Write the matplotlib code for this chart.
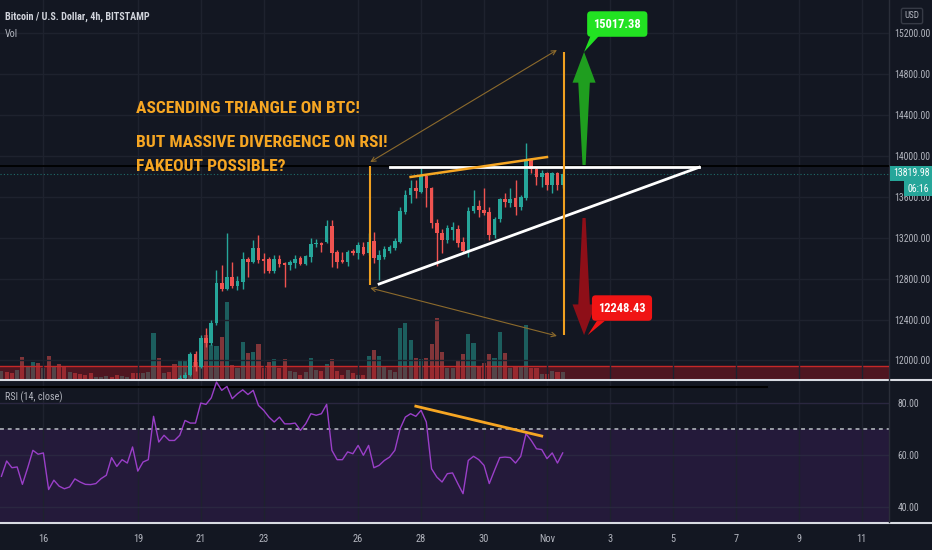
import numpy as np
import matplotlib
matplotlib.use('Agg')
import matplotlib.pyplot as plt
from matplotlib.patches import Polygon
from matplotlib.lines import Line2D
from matplotlib import font_manager as fm

# ---------------- data (4h bars, index 0 = 16 Oct 2020 00:00) ----------------
bar_start = -8            # first bar index of volume / RSI series
candle_start = 26         # first bar index of the candle arrays

opens = [11770, 11830, 11860, 12060, 11935, 12220, 12170, 12370, 12760, 12700,
         12820, 12730, 12770, 12990, 12960, 13100, 12990, 12990, 12880, 12990,
         12950, 12930, 12950, 13000, 12940, 13010, 13140, 13150, 13160, 13320,
         13060, 12980, 12960, 13070, 13050, 13110, 13050, 13170, 12980, 13010,
         13070, 13100, 13160, 13450, 13620, 13690, 13650, 13800, 13690, 13340,
         13250, 13180, 13280, 13290, 13160, 13070, 13460, 13510, 13470, 13450,
         13230, 13380, 13580, 13540, 13590, 13500, 13590, 13960, 13870, 13790,
         13830, 13720, 13830, 13720]
highs = [11860, 11890, 12080, 12090, 12250, 12320, 12400, 12885, 12930, 13250,
         12960, 12830, 13060, 13010, 13180, 13230, 13050, 13010, 13030, 13030,
         12960, 12980, 13030, 13020, 13030, 13200, 13190, 13160, 13370, 13370,
         13080, 13060, 13080, 13090, 13160, 13160, 13250, 13260, 13080, 13120,
         13130, 13200, 13500, 13670, 13770, 13770, 13880, 13810, 13700, 13380,
         13290, 13330, 13350, 13330, 13210, 13500, 13670, 13570, 13690, 13500,
         13400, 13590, 13640, 13690, 13770, 13620, 14130, 13980, 13890, 13860,
         13840, 13840, 13840, 13840]
lows = [11740, 11800, 11850, 11900, 11925, 12130, 12150, 12350, 12680, 12690,
        12710, 12690, 12700, 12820, 12950, 12950, 12860, 12860, 12860, 12910,
        12720, 12890, 12900, 12930, 12930, 12960, 13110, 13060, 13150, 12910,
        12900, 12950, 12920, 13030, 12990, 13030, 13030, 12950, 12790, 12990,
        13050, 13080, 13150, 13430, 13540, 13590, 13640, 13500, 13300, 12920,
        13050, 13150, 13180, 13110, 13050, 13010, 13440, 13400, 13420, 13180,
        13200, 13350, 13500, 13500, 13420, 13470, 13570, 13830, 13720, 13700,
        13670, 13640, 13670, 13690]
closes = [11830, 11860, 12060, 11935, 12220, 12170, 12370, 12760, 12700, 12820,
          12730, 12780, 12990, 12960, 13100, 12980, 12970, 12880, 12990, 12940,
          12930, 12960, 12990, 12940, 13020, 13140, 13150, 13130, 13320, 13050,
          12960, 12960, 13060, 13050, 13130, 13040, 13160, 13000, 13030, 13090,
          13110, 13170, 13460, 13620, 13690, 13660, 13800, 13690, 13340, 13250,
          13180, 13300, 13310, 13150, 13070, 13460, 13510, 13470, 13440, 13230,
          13380, 13580, 13550, 13580, 13500, 13600, 13960, 13870, 13790, 13830,
          13720, 13830, 13720, 13819.98]

volume = [320, 280, 240, 360, 880, 480, 680, 640, 440, 920,
          480, 600, 520, 280, 240, 200, 160, 240, 80, 80,
          120, 80, 160, 120, 80, 240, 240, 240, 280, 1840,
          840, 240, 280, 600, 760, 720, 920, 680, 1640, 1760,
          1360, 1320, 1680, 3080, 560, 440, 1480, 1040, 1080, 1400,
          440, 680, 800, 440, 800, 320, 280, 160, 280, 840,
          360, 320, 600, 800, 320, 160, 360, 240, 160, 160,
          920, 1160, 920, 480, 360, 280, 2040, 2240, 1560, 840,
          800, 840, 1400, 2440, 1080, 440, 440, 760, 1000, 1800,
          1440, 480, 640, 1000, 840, 1880, 1040, 440, 520, 480,
          2160, 440, 440, 200, 200, 320, 280, 280]
early_dir = ['U', 'D', 'D', 'U', 'D', 'U', 'U', 'D', 'U', 'D',
             'U', 'D', 'D', 'U', 'D', 'D', 'D', 'D', 'U', 'U',
             'U', 'D', 'D', 'U', 'U', 'D', 'D', 'U', 'U', 'U',
             'D', 'U', 'D', 'D']

rsi = [51.8, 57.7, 55.1, 55.4, 48.7, 55.0, 61.8, 60.3, 60.8, 46.7,
       50.3, 48.0, 47.0, 47.7, 50.8, 49.6, 48.7, 48.6, 49.0, 50.9,
       52.2, 59.0, 55.6, 58.2, 56.9, 63.1, 53.8, 57.3, 58.2, 74.9,
       65.0, 67.6, 65.6, 65.6, 67.6, 73.3, 72.3, 72.3, 80.0, 79.5,
       82.0, 88.1, 84.9, 86.4, 81.7, 83.6, 85.1, 83.3, 84.9, 79.1,
       77.2, 74.6, 72.7, 74.6, 72.0, 72.0, 72.3, 69.5, 72.0, 75.9,
       75.3, 75.9, 79.5, 61.8, 58.2, 58.2, 61.2, 60.5, 63.7, 59.9,
       63.7, 55.1, 56.0, 57.9, 59.2, 61.8, 70.1, 74.6, 75.9, 74.9,
       77.2, 72.7, 54.7, 51.5, 49.6, 52.8, 53.1, 49.0, 45.1, 57.9,
       59.5, 58.2, 56.0, 49.0, 54.1, 59.0, 59.2, 59.0, 56.9, 59.5,
       68.2, 65.6, 62.4, 62.1, 58.6, 60.8, 56.9, 60.8]

day_ticks = [0, 18, 30, 42, 60, 72, 84, 96, 108, 120, 132, 144, 156]
day_labels = ['16', '19', '21', '23', '26', '28', '30', 'Nov', '3', '5', '7', '9', '11']
price_ticks = [12000, 12400, 12800, 13200, 13600, 14000, 14400, 14800, 15200]
rsi_ticks = [40, 60, 80]

last_price = 13819.98
target_up = 15017.38
target_down = 12248.43
resistance = 13890
black_level = 13902
vol_band = 520

# drawings (bar index, price)
support_line = ([64, 125], [12748, resistance])
resist_line = ([66.1, 125], [resistance, resistance])
highs_line = ([70, 96], [13795, 13990])
rsi_line = ([71, 95], [78.8, 67.3])
left_range = (62.3, 12740, 13905)
right_range = (99.15, target_down, target_up)
arrow_x = 103.07
up_base, down_base = 13912, 13394

# ---------------- style ----------------
BG = '#131722'
UP = '#26a69a'
DN = '#ef5350'
ORANGE = '#f6a623'
TXT = '#b2b5be'
GRID = '#1e222e'

_names = {f.name for f in fm.fontManager.ttflist}
COND = next((n for n in ['Roboto Condensed', 'Liberation Sans Narrow',
                         'Open Sans Condensed', 'Ubuntu Condensed'] if n in _names), None)
if COND:
    plt.rcParams['font.family'] = [COND, 'DejaVu Sans']
else:
    plt.rcParams['font.family'] = ['DejaVu Sans']
    plt.rcParams['font.stretch'] = 'condensed'

W, H = 932, 550
fig = plt.figure(figsize=(W / 100, H / 100), dpi=100)
fig.patch.set_facecolor(BG)

plot_r = 889 / W
ax = fig.add_axes([0, 1 - 379 / H, plot_r, 379 / H])
axv = ax.twinx()
axr = fig.add_axes([0, 1 - 522 / H, plot_r, 141 / H], sharex=ax)
ax.set_zorder(3)
axv.set_zorder(2)
ax.patch.set_visible(False)
axv.patch.set_visible(False)
axr.set_facecolor(BG)

ax.set_xlim(-8.27, 161.2)
ax.set_ylim(11819, 15526)
axv.set_ylim(0, 15160)
axr.set_ylim(34.2, 88.5)

for a in (ax, axv, axr):
    for s in a.spines.values():
        s.set_visible(False)

# grids
for t in day_ticks:
    ax.axvline(t, color=GRID, lw=1, zorder=0)
    axr.axvline(t, color=GRID, lw=1, zorder=0.5)
for p in price_ticks:
    ax.axhline(p, color=GRID, lw=1, zorder=0)

# volume
n_bars = len(volume)
bar_idx = np.arange(n_bars) + bar_start
o = np.array(opens, float)
c = np.array(closes, float)
cand_up = c >= o
vol_up = [d == 'U' for d in early_dir] + list(cand_up)
vcol = [(38/255, 166/255, 154/255, 0.5) if u else (239/255, 83/255, 80/255, 0.5) for u in vol_up]
axv.bar(bar_idx, volume, width=0.78, color=vcol, zorder=2)
axv.axhspan(0, vol_band, color=(0.78, 0.08, 0.12, 0.33), lw=0, zorder=3)
axv.axhline(vol_band, color='#c62828', lw=1, zorder=3)
axv.set_yticks([])

# candles
ci = np.arange(len(opens)) + candle_start
ccol = np.where(cand_up, UP, DN)
ax.vlines(ci, lows, highs, color=ccol, lw=1, zorder=3)
body_lo = np.minimum(o, c)
body_h = np.maximum(np.abs(c - o), 12)
ax.bar(ci, body_h, bottom=body_lo, width=0.68, color=ccol, zorder=4)

# horizontal levels
ax.axhline(black_level, color='#000000', lw=1.3, zorder=2)
ax.axhline(last_price, color=UP, lw=0.8, ls=(0, (1, 2)), alpha=0.6, zorder=2)

# triangle
ax.plot(*resist_line, color='white', lw=2, zorder=6)
ax.plot(*support_line, color='white', lw=2, zorder=6)
ax.plot(*highs_line, color=ORANGE, lw=1.8, zorder=6)

# projection ranges
ax.vlines(left_range[0], left_range[1], left_range[2], color='#f0a020', lw=1.5, zorder=6)
ax.vlines(right_range[0], right_range[1], right_range[2], color='#f0a020', lw=1.5, zorder=6)
thin = dict(arrowstyle='<->', color='#8c6a2c', lw=0.8, mutation_scale=8, shrinkA=0, shrinkB=0)
ax.annotate('', xy=(97.9, 15037), xytext=(left_range[0], 13941), arrowprops=thin, zorder=6)
ax.annotate('', xy=(97.9, 12240), xytext=(left_range[0], 12709), arrowprops=thin, zorder=6)

# big arrows
hw, sw, bw = 2.2, 1.1, 0.3
head = 300
up_pts = [(arrow_x - bw, up_base), (arrow_x - sw, target_up - head), (arrow_x - hw, target_up - head),
          (arrow_x, target_up), (arrow_x + hw, target_up - head), (arrow_x + sw, target_up - head),
          (arrow_x + bw, up_base)]
dn_pts = [(arrow_x - bw, down_base), (arrow_x - sw, target_down + head), (arrow_x - hw, target_down + head),
          (arrow_x, target_down), (arrow_x + hw, target_down + head), (arrow_x + sw, target_down + head),
          (arrow_x + bw, down_base)]
ax.add_patch(Polygon(up_pts, closed=True, fc='#1f9e1f', ec='none', zorder=7))
ax.add_patch(Polygon(dn_pts, closed=True, fc='#8e0f18', ec='none', zorder=7))

# price labels with tails
ax.add_patch(Polygon([(104.3, 15174), (105.9, 15174), (arrow_x, target_up)],
                     closed=True, fc='#22e222', ec='none', zorder=8))
ax.add_patch(Polygon([(105.5, 12386), (107.0, 12386), (arrow_x + 0.7, target_down)],
                     closed=True, fc='#f01414', ec='none', zorder=8))
ax.text(109.4, 15291, f'{target_up:.2f}', ha='center', va='center', color='white',
        fontsize=9, fontweight='bold', zorder=9,
        bbox=dict(boxstyle='round,pad=0.5,rounding_size=0.3', fc='#22e222', ec='none'))
ax.text(110.3, 12513, f'{target_down:.2f}', ha='center', va='center', color='white',
        fontsize=9, fontweight='bold', zorder=9,
        bbox=dict(boxstyle='round,pad=0.5,rounding_size=0.3', fc='#f01414', ec='none'))

# big text
txt_kw = dict(color=ORANGE, fontsize=12.6, fontweight='bold', ha='left', va='center', zorder=8)
ax.text(17.65, 14469, 'ASCENDING TRIANGLE ON BTC!', **txt_kw)
ax.text(17.65, 14137, 'BUT MASSIVE DIVERGENCE ON RSI!', **txt_kw)
ax.text(17.65, 13902, 'FAKEOUT POSSIBLE?', **txt_kw)

# price axis ticks
ax.yaxis.tick_right()
ax.set_yticks(price_ticks)
ax.set_yticklabels([f'{p:.2f}' for p in price_ticks])
ax.tick_params(axis='y', length=0, pad=4, labelsize=7, colors=TXT)
ax.tick_params(axis='x', length=0, labelbottom=False)
for lab in ax.get_yticklabels():
    lab.set_horizontalalignment('left')

# RSI pane
axr.axhspan(30, 70, color='#241a3a', lw=0, zorder=0)
for v in rsi_ticks:
    axr.axhline(v, color='#2a2740', lw=1, zorder=0.6)
axr.axhline(70, color='#9a9da6', lw=1.4, ls=(0, (2, 2)), zorder=1)
axr.plot(bar_idx, rsi, color='#9a3fc8', lw=1, zorder=3)
axr.plot(*rsi_line, color=ORANGE, lw=2, zorder=4)
axr.plot([bar_start, 138], [86.3, 86.3], color='#000000', lw=1.5, zorder=2)
axr.yaxis.tick_right()
axr.set_yticks(rsi_ticks)
axr.set_yticklabels([f'{v:.2f}' for v in rsi_ticks])
axr.tick_params(axis='y', length=0, pad=6, labelsize=7, colors=TXT)
axr.set_xticks(day_ticks)
axr.set_xticklabels(day_labels)
axr.tick_params(axis='x', length=0, pad=9, labelsize=7.5, colors=TXT)
for lab in axr.get_yticklabels():
    lab.set_horizontalalignment('left')

# pane separators
fig.add_artist(Line2D([0, 1], [1 - 379.5 / H] * 2, color='#d8dbe2', lw=1.5))
fig.add_artist(Line2D([0, 1], [1 - 522.5 / H] * 2, color='#d8dbe2', lw=1.5))
fig.add_artist(Line2D([plot_r, plot_r], [1 - 522 / H, 1], color='#2a2e39', lw=1))

# header / legend texts
fig.text(5 / W, 1 - 17 / H, 'Bitcoin / U.S. Dollar, 4h, BITSTAMP', color='#d1d4dc',
         fontsize=7.3, fontweight='bold', va='center', ha='left')
fig.text(5 / W, 1 - 34 / H, 'Vol', color=TXT, fontsize=7.3, va='center', ha='left')
fig.text(5 / W, 1 - 397 / H, 'RSI (14, close)', color=TXT, fontsize=7.3, va='center', ha='left')
fig.text(912 / W, 1 - 16 / H, 'USD', color=TXT, fontsize=6.5, va='center', ha='center',
         bbox=dict(boxstyle='round,pad=0.35,rounding_size=0.2', fc=BG, ec='#363a45', lw=1))
fig.text(893 / W, 1 - 173.5 / H, f'{last_price:.2f}', color='white', fontsize=7,
         va='center', ha='left', zorder=10,
         bbox=dict(boxstyle='square,pad=0.3', fc=UP, ec='none'))
fig.text(907 / W, 1 - 188.5 / H, '06:16', color='white', fontsize=7,
         va='center', ha='left', zorder=10,
         bbox=dict(boxstyle='square,pad=0.3', fc=UP, ec='none'))

fig.savefig('out.png', dpi=100, facecolor=BG)
